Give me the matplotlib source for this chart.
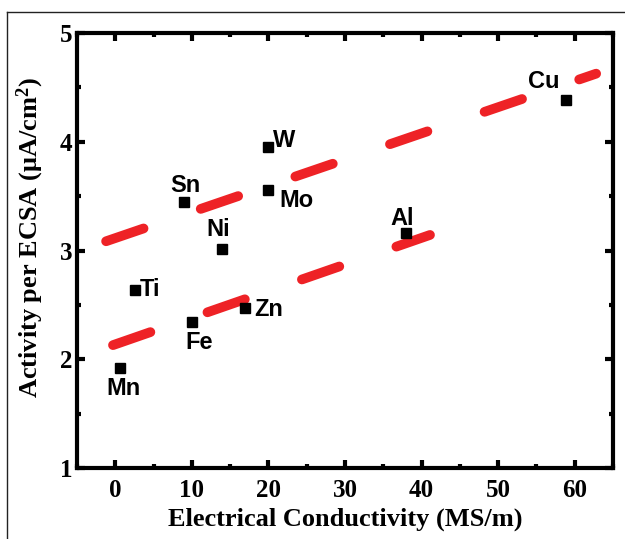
import matplotlib
matplotlib.use("Agg")
import matplotlib.pyplot as plt
from matplotlib.ticker import MultipleLocator
from matplotlib.lines import Line2D

plt.rcParams['mathtext.fontset'] = 'custom'
plt.rcParams['mathtext.rm'] = 'Liberation Serif:bold'
plt.rcParams['mathtext.bf'] = 'Liberation Serif:bold'
plt.rcParams['mathtext.it'] = 'Liberation Serif:bold'
plt.rcParams['lines.scale_dashes'] = False

# data
elements = ['Mn', 'Ti', 'Fe', 'Zn', 'Sn', 'Ni', 'W', 'Mo', 'Al', 'Cu']
conductivity = [0.6, 2.6, 10.0, 17.0, 9.0, 14.0, 20.0, 20.0, 38.0, 58.9]
activity = [1.92, 2.64, 2.345, 2.47, 3.45, 3.01, 3.95, 3.56, 3.16, 4.38]

# label anchor positions (data coords) and alignment
label_x = [1.1, 3.2, 11.0, 18.2, 9.1, 13.4, 20.6, 21.4, 37.5, 56.0]
label_y = [1.733, 2.64, 2.152, 2.453, 3.60, 3.19, 4.016, 3.464, 3.296, 4.55]
label_ha = ['center', 'left', 'center', 'left', 'center', 'center', 'left', 'left', 'center', 'center']

# guide lines (red dashed)
upper_x = [-1.2, 62.8]
upper_y = [3.085, 4.626]
lower_x = [-0.3, 41.1]
lower_y = [2.13, 3.143]

fig = plt.figure(figsize=(6.25, 5.39), dpi=100)
ax = fig.add_axes([0.1232, 0.1317, 0.8576, 0.8071])

red = '#EE2226'
for gx, gy in [(upper_x, upper_y), (lower_x, lower_y)]:
    ax.plot(gx, gy, color=red, lw=7, dashes=(28.5, 43.5), solid_capstyle='round',
            dash_capstyle='round', zorder=2)

ax.plot(conductivity, activity, 's', color='black', ms=6.5, zorder=3)

for name, lx, ly, ha in zip(elements, label_x, label_y, label_ha):
    ax.text(lx, ly, name, ha=ha, va='center', fontsize=17, fontweight='bold',
            family='Liberation Sans', zorder=4)

ax.set_xlim(-5, 65)
ax.set_ylim(1, 5)
ax.xaxis.set_major_locator(MultipleLocator(10))
ax.xaxis.set_minor_locator(MultipleLocator(5))
ax.yaxis.set_major_locator(MultipleLocator(1))
ax.yaxis.set_minor_locator(MultipleLocator(0.5))

for sp in ax.spines.values():
    sp.set_linewidth(3)
ax.tick_params(which='both', direction='in', top=True, right=True, width=3)
ax.tick_params(which='major', length=6)
ax.tick_params(which='minor', length=3)
ax.tick_params(axis='x', which='major', pad=8)
ax.tick_params(axis='y', which='major', pad=3.5)

for lab in ax.get_xticklabels() + ax.get_yticklabels():
    lab.set_family('Liberation Serif')
    lab.set_fontweight('bold')
    lab.set_fontsize(18)

ax.set_xlabel('Electrical Conductivity (MS/m)', family='Liberation Serif',
              fontweight='bold', fontsize=19, labelpad=4)
ax.set_ylabel('Activity per ECSA (μA/cm$^{2}$)', family='Liberation Serif',
              fontweight='bold', fontsize=19)
ax.yaxis.set_label_coords(-0.058, 0.531)

# outer frame lines (left and top)
fig.add_artist(Line2D([7/625, 7/625], [0, 1 - 11.5/539], transform=fig.transFigure,
                      color='#222222', lw=1))
fig.add_artist(Line2D([7/625, 1], [1 - 11.5/539, 1 - 11.5/539], transform=fig.transFigure,
                      color='#222222', lw=1))

fig.savefig('out.png', dpi=100)
